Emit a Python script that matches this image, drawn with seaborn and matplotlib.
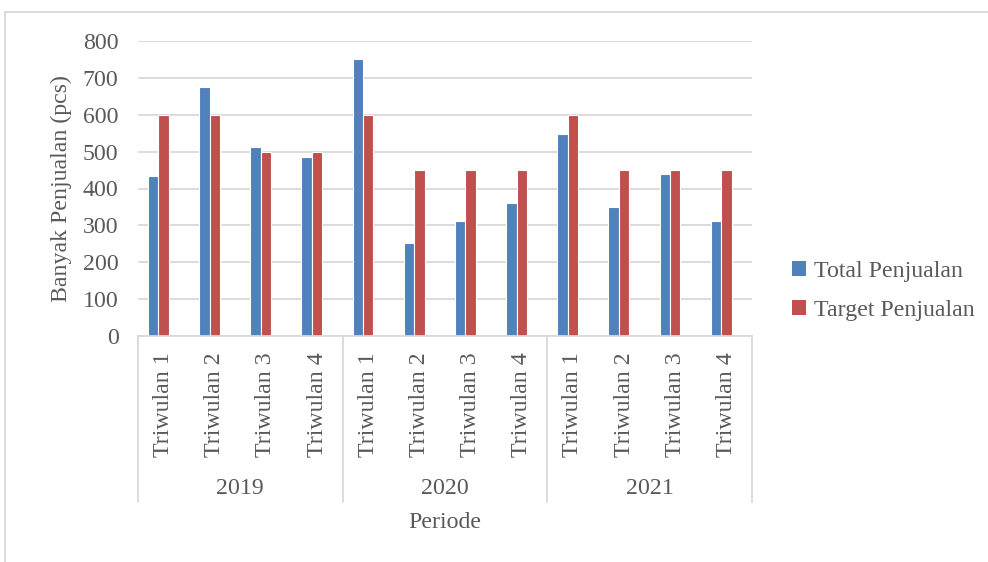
import matplotlib
matplotlib.use("Agg")
import matplotlib.pyplot as plt
from matplotlib.patches import Patch
from matplotlib.lines import Line2D
import seaborn as sns
import pandas as pd

# Quarterly sales vs. target, 2019-2021
years = ["2019", "2020", "2021"]
quarters = ["Triwulan 1", "Triwulan 2", "Triwulan 3", "Triwulan 4"]
total_penjualan = [435, 674, 513, 485, 751, 251, 311, 360, 548, 350, 438, 312]
target_penjualan = [600, 600, 500, 500, 600, 450, 450, 450, 600, 450, 450, 450]
series_names = ["Total Penjualan", "Target Penjualan", "(kosong)"]
y_ticks = [0, 100, 200, 300, 400, 500, 600, 700, 800]

BLUE = "#4F81BD"
RED = "#C0504D"
TEXT = "#595959"
GRID = "#D9D9D9"

periods = [f"{y} {q}" for y in years for q in quarters]
rows = []
for p, t, g in zip(periods, total_penjualan, target_penjualan):
    rows.append({"periode": p, "seri": series_names[0], "nilai": t})
    rows.append({"periode": p, "seri": series_names[1], "nilai": g})
    # empty third series of the worksheet keeps its slot in each cluster
    rows.append({"periode": p, "seri": series_names[2], "nilai": 0})
df = pd.DataFrame(rows)

sns.set_theme(style="white")
plt.rcParams["font.family"] = ["Liberation Serif", "DejaVu Serif"]

W, H = 988, 562
fig = plt.figure(figsize=(W / 100, H / 100), dpi=100)
left, right, top, bottom = 138, 752, 41, 336
ax = fig.add_axes([left / W, 1 - bottom / H, (right - left) / W, (bottom - top) / H])

sns.barplot(
    data=df, x="periode", y="nilai", hue="seri",
    order=periods, hue_order=series_names,
    palette={series_names[0]: BLUE, series_names[1]: RED, series_names[2]: "white"},
    saturation=1, width=0.615, gap=0, edgecolor="white", linewidth=0.8,
    errorbar=None, legend=False, ax=ax, zorder=3,
)

FS = 17.2
ax.set_ylim(0, 800)
ax.set_xlim(-0.5, len(periods) - 0.5)
ax.set_yticks(y_ticks)
ax.set_yticklabels([str(v) for v in y_ticks])
ax.yaxis.grid(True, color=GRID, linewidth=1.3, zorder=0)
ax.xaxis.grid(False)
for s in ["left", "right", "top"]:
    ax.spines[s].set_visible(False)
ax.spines["bottom"].set_color(GRID)
ax.spines["bottom"].set_linewidth(1.3)
ax.spines["bottom"].set_zorder(4)

ax.set_xticks(range(len(periods)))
ax.set_xticklabels([q for _ in years for q in quarters], rotation=90)
ax.tick_params(axis="x", length=0, pad=12, labelsize=FS, labelcolor=TEXT)
ax.tick_params(axis="y", length=0, pad=14, labelsize=FS, labelcolor=TEXT)

ax.set_xlabel("")
ax.set_ylabel("Banyak Penjualan (pcs)", fontsize=FS, color=TEXT)
ax.yaxis.set_label_coords(-0.107, 0.5)

# multi-level category axis: group dividers and year labels
axis_h = bottom - top
div_bottom = -(502 - bottom) / axis_h
trans = ax.get_xaxis_transform()
for k in range(len(years) + 1):
    xb = k * len(quarters) - 0.5
    ax.add_line(Line2D([xb, xb], [0, div_bottom], transform=trans,
                       color=GRID, linewidth=1.3, clip_on=False))
year_y = -(488 - bottom) / axis_h
for k, yr in enumerate(years):
    xc = k * len(quarters) + (len(quarters) - 1) / 2
    ax.text(xc, year_y, yr, transform=trans, ha="center", va="center",
            fontsize=FS, color=TEXT)

fig.text((left + right) / 2 / W, 1 - 523 / H, "Periode", ha="center", va="center",
         fontsize=FS, color=TEXT)

# outer chart border
fig.add_artist(Line2D([5 / W, 5 / W], [0, 1 - 12 / H], transform=fig.transFigure,
                      color=GRID, linewidth=1.3))
fig.add_artist(Line2D([5 / W, 1], [1 - 12 / H, 1 - 12 / H], transform=fig.transFigure,
                      color=GRID, linewidth=1.3))

handles = [Patch(facecolor=BLUE, edgecolor="none", label=series_names[0]),
           Patch(facecolor=RED, edgecolor="none", label=series_names[1])]
leg = fig.legend(handles=handles, loc="center left",
                 bbox_to_anchor=(792 / W, 1 - 291 / H), frameon=False,
                 fontsize=FS, handlelength=0.6, handleheight=0.6,
                 handletextpad=0.3, labelspacing=0.75, borderpad=0,
                 borderaxespad=0)
for t in leg.get_texts():
    t.set_color(TEXT)

fig.savefig("out.png", dpi=100, facecolor="white")
